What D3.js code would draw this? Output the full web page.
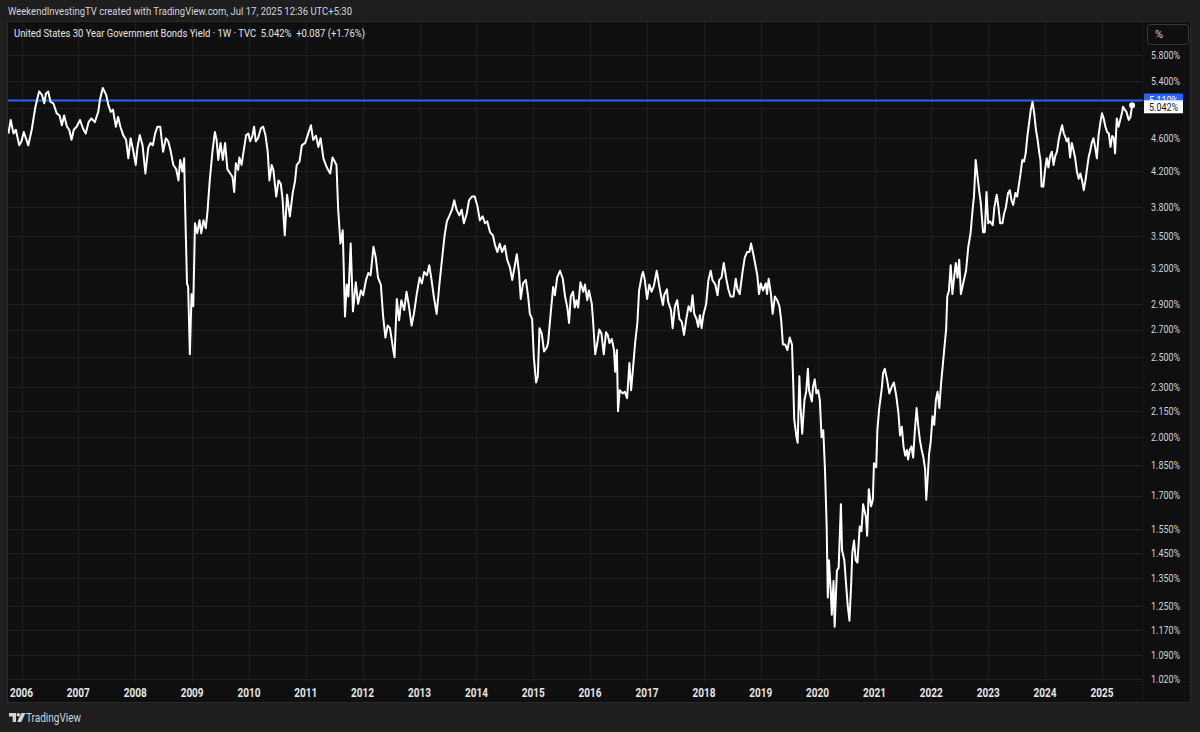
<!DOCTYPE html>
<html>
<head>
<meta charset="utf-8">
<script src="https://cdn.jsdelivr.net/npm/d3@7/dist/d3.min.js"></script>
<style>
    body { margin: 0; background: #1e1e1e; }
    svg { display: block; font-family: Roboto, "Liberation Sans", sans-serif; }
</style>
</head>
<body>
<script>
// weekly closes, dates as decimal years
var dates = [
    2005.77,2005.81,2005.86,2005.90,2005.96,2006.00,2006.04,2006.12,2006.18,2006.24,2006.28,2006.31,2006.36,2006.40,2006.43,2006.47,2006.51,2006.56,2006.62,2006.67,2006.71,2006.75,2006.80,2006.84,2006.88,2006.92,2006.97,
    2007.03,2007.08,2007.13,2007.18,2007.23,2007.29,2007.35,2007.38,2007.43,2007.49,2007.53,2007.57,2007.61,2007.66,2007.70,2007.74,2007.79,2007.84,2007.88,2007.92,2007.97,
    2008.01,2008.04,2008.08,2008.13,2008.18,2008.23,2008.27,2008.31,2008.35,2008.39,2008.44,2008.49,2008.54,2008.58,2008.62,2008.67,2008.72,2008.76,2008.79,2008.83,2008.86,2008.88,2008.91,2008.93,2008.96,2008.99,
    2009.02,2009.05,2009.09,2009.13,2009.16,2009.20,2009.24,2009.27,2009.31,2009.36,2009.40,2009.43,2009.46,2009.50,2009.54,2009.58,2009.62,2009.67,2009.71,2009.74,2009.77,2009.81,2009.83,2009.87,2009.90,2009.95,2009.99,
    2010.02,2010.06,2010.09,2010.12,2010.16,2010.21,2010.25,2010.29,2010.33,2010.36,2010.40,2010.43,2010.48,2010.52,2010.56,2010.59,2010.63,2010.67,2010.72,2010.77,2010.81,2010.84,2010.89,2010.93,2010.99,
    2011.03,2011.09,2011.13,2011.18,2011.22,2011.26,2011.31,2011.37,2011.43,2011.47,2011.51,2011.54,2011.57,2011.61,2011.65,2011.69,2011.72,2011.75,2011.79,2011.83,2011.88,2011.92,2011.97,
    2012.01,2012.06,2012.10,2012.14,2012.19,2012.23,2012.27,2012.32,2012.36,2012.40,2012.44,2012.48,2012.53,2012.56,2012.60,2012.64,2012.68,2012.73,2012.77,2012.81,2012.86,2012.90,2012.95,
    2013.00,2013.04,2013.08,2013.13,2013.17,2013.21,2013.25,2013.30,2013.35,2013.39,2013.44,2013.48,2013.52,2013.57,2013.61,2013.65,2013.70,2013.74,2013.78,2013.83,2013.87,2013.92,2013.97,
    2014.02,2014.06,2014.11,2014.15,2014.19,2014.24,2014.29,2014.33,2014.37,2014.41,2014.45,2014.50,2014.54,2014.59,2014.63,2014.67,2014.71,2014.75,2014.78,2014.82,2014.87,2014.91,2014.94,2014.98,
    2015.01,2015.05,2015.08,2015.11,2015.15,2015.19,2015.24,2015.26,2015.31,2015.35,2015.38,2015.42,2015.47,2015.52,2015.56,2015.60,2015.63,2015.66,2015.70,2015.73,2015.76,2015.79,2015.83,2015.88,2015.91,2015.95,2015.98,
    2016.03,2016.05,2016.09,2016.13,2016.16,2016.20,2016.24,2016.28,2016.31,2016.34,2016.38,2016.42,2016.44,2016.47,2016.49,2016.52,2016.57,2016.61,2016.65,2016.69,2016.72,2016.75,2016.79,2016.83,2016.86,2016.91,2016.93,2016.96,
    2017.00,2017.04,2017.08,2017.12,2017.17,2017.21,2017.24,2017.28,2017.30,2017.35,2017.37,2017.42,2017.45,2017.49,2017.53,2017.57,2017.61,2017.65,2017.69,2017.73,2017.77,2017.80,2017.83,2017.87,2017.90,2017.93,2017.96,2017.99,
    2018.04,2018.08,2018.12,2018.15,2018.20,2018.24,2018.27,2018.31,2018.35,2018.39,2018.43,2018.47,2018.52,2018.56,2018.59,2018.63,2018.68,2018.72,2018.76,2018.80,2018.83,2018.87,2018.90,2018.94,2018.97,
    2019.00,2019.04,2019.09,2019.11,2019.14,2019.18,2019.21,2019.25,2019.29,2019.33,2019.36,2019.39,2019.43,2019.47,2019.51,2019.55,2019.57,2019.59,2019.63,2019.65,2019.68,2019.70,2019.73,2019.77,2019.80,2019.83,2019.85,2019.90,2019.92,2019.95,2019.98,
    2020.01,2020.04,2020.07,2020.10,2020.13,2020.16,2020.18,2020.20,2020.23,2020.25,2020.28,2020.30,2020.34,2020.37,2020.41,2020.43,2020.47,2020.50,2020.53,2020.56,2020.59,2020.61,2020.64,2020.67,2020.70,2020.74,2020.77,2020.80,2020.85,2020.87,2020.90,2020.94,2020.97,2020.99,
    2021.03,2021.05,2021.08,2021.13,2021.15,2021.18,2021.22,2021.26,2021.30,2021.34,2021.38,2021.42,2021.45,2021.48,2021.51,2021.54,2021.57,2021.59,2021.62,2021.65,2021.68,2021.71,2021.74,2021.77,2021.80,2021.83,2021.86,2021.89,2021.91,2021.94,2021.96,2021.99,
    2022.02,2022.05,2022.08,2022.11,2022.14,2022.17,2022.20,2022.23,2022.26,2022.28,2022.31,2022.34,2022.37,2022.40,2022.43,2022.46,2022.49,2022.52,2022.56,2022.61,2022.65,2022.69,2022.73,2022.75,2022.78,2022.81,2022.84,2022.87,2022.91,2022.94,2022.97,
    2023.00,2023.03,2023.08,2023.11,2023.15,2023.18,2023.21,2023.25,2023.28,2023.31,2023.35,2023.38,2023.41,2023.44,2023.48,2023.51,2023.54,2023.57,2023.60,2023.63,2023.66,2023.69,2023.72,2023.75,2023.78,2023.81,2023.84,2023.87,2023.90,2023.92,2023.94,2023.97,
    2024.00,2024.03,2024.06,2024.09,2024.12,2024.15,2024.18,2024.21,2024.24,2024.27,2024.30,2024.33,2024.35,2024.38,2024.41,2024.44,2024.47,2024.50,2024.53,2024.56,2024.59,2024.62,2024.65,2024.68,2024.71,2024.74,2024.77,2024.79,2024.82,2024.85,2024.88,2024.91,2024.94,2024.97,
    2025.00,2025.03,2025.06,2025.09,2025.12,2025.15,2025.18,2025.21,2025.23,2025.26,2025.29,2025.32,2025.35,2025.37,2025.40,2025.43,2025.47,2025.50,2025.53
];

var yields = [
    4.66,4.84,4.66,4.71,4.51,4.56,4.68,4.51,4.71,5.00,5.14,5.24,5.19,5.07,5.21,5.24,5.09,5.07,4.93,4.90,4.77,4.90,4.75,4.71,4.58,4.71,4.75,
    4.84,4.73,4.66,4.81,4.86,4.81,4.95,5.12,5.29,5.19,5.04,4.95,4.98,4.75,4.88,4.75,4.64,4.58,4.35,4.60,4.43,
    4.27,4.48,4.64,4.51,4.17,4.48,4.54,4.51,4.66,4.75,4.75,4.43,4.60,4.56,4.45,4.27,4.22,4.09,4.33,4.19,4.35,3.73,3.07,3.04,2.52,2.98,
    2.88,3.63,3.53,3.66,3.53,3.66,3.58,3.75,4.09,4.45,4.68,4.58,4.33,4.54,4.33,4.54,4.22,4.17,4.13,3.96,4.29,4.21,4.36,4.27,4.41,4.64,4.66,
    4.56,4.63,4.75,4.56,4.60,4.73,4.75,4.64,4.43,4.09,4.27,4.21,3.91,4.09,4.05,3.89,3.51,3.93,3.70,3.95,4.08,4.27,4.31,4.51,4.54,
    4.63,4.77,4.58,4.63,4.49,4.60,4.35,4.24,4.17,4.36,4.31,4.27,3.77,3.43,3.56,2.80,3.06,2.96,3.43,2.84,3.08,2.90,3.01,
    2.97,3.10,3.16,3.14,3.40,3.30,3.12,3.06,2.80,2.64,2.73,2.71,2.57,2.50,2.94,2.77,2.93,2.85,3.00,2.89,2.73,2.82,2.98,
    3.12,3.07,3.17,3.14,3.23,3.10,2.96,2.82,3.07,3.26,3.51,3.65,3.70,3.77,3.87,3.77,3.71,3.77,3.63,3.73,3.87,3.91,3.91,
    3.80,3.66,3.70,3.63,3.65,3.54,3.51,3.41,3.35,3.43,3.35,3.41,3.28,3.21,3.10,3.21,3.33,3.16,2.94,3.07,3.10,2.96,2.82,2.78,
    2.50,2.33,2.37,2.71,2.67,2.54,2.57,2.60,2.84,3.04,2.97,3.12,3.18,3.11,2.96,2.87,2.75,2.96,3.00,2.87,2.93,2.87,3.08,3.00,3.06,2.93,3.01,
    2.90,2.78,2.52,2.61,2.70,2.67,2.52,2.68,2.66,2.60,2.63,2.55,2.40,2.55,2.15,2.28,2.26,2.27,2.23,2.46,2.28,2.41,2.60,2.75,3.01,3.14,3.17,3.10,
    2.94,3.06,3.00,3.05,3.18,3.06,2.98,2.89,2.97,3.02,2.92,2.85,2.71,2.88,2.93,2.78,2.76,2.66,2.78,2.88,2.84,2.97,2.82,2.78,2.72,2.81,2.71,2.81,
    2.90,3.10,3.18,3.10,3.06,2.97,3.10,3.12,3.25,3.12,3.02,2.96,2.96,3.11,3.02,2.98,3.17,3.30,3.35,3.35,3.43,3.33,3.25,3.14,2.98,
    3.07,3.01,3.07,2.98,3.11,2.98,2.82,2.96,2.93,2.88,2.77,2.59,2.59,2.55,2.64,2.59,2.35,2.10,2.00,1.97,2.37,2.18,2.02,2.22,2.27,2.42,2.28,2.21,2.30,2.35,2.26,
    2.28,2.22,2.00,2.04,1.83,1.56,1.28,1.42,1.31,1.22,1.34,1.18,1.38,1.39,1.66,1.46,1.42,1.33,1.25,1.20,1.33,1.45,1.50,1.42,1.41,1.56,1.54,1.66,1.60,1.52,1.73,1.65,1.68,1.86,
    1.84,2.04,2.16,2.30,2.39,2.42,2.35,2.26,2.30,2.33,2.25,2.14,2.01,2.06,1.95,1.90,1.93,1.88,1.93,1.95,1.89,2.04,2.17,2.06,1.98,1.93,1.89,1.83,1.68,1.81,1.91,1.98,
    2.12,2.07,2.22,2.27,2.17,2.32,2.44,2.57,2.70,2.96,3.01,3.23,2.98,3.12,3.25,3.12,3.28,2.98,3.07,3.18,3.40,3.53,3.80,3.91,4.33,4.15,3.98,3.84,3.54,3.54,3.96,
    3.63,3.65,3.61,3.80,3.93,3.80,3.63,3.63,3.73,3.79,3.95,3.98,3.87,3.82,3.95,3.91,4.04,4.17,4.33,4.31,4.41,4.63,4.80,4.98,5.09,4.93,4.71,4.58,4.41,4.33,4.02,4.02,
    4.21,4.35,4.24,4.38,4.43,4.27,4.38,4.43,4.58,4.68,4.77,4.66,4.63,4.56,4.60,4.36,4.54,4.45,4.35,4.19,4.11,4.17,4.09,3.98,4.09,4.24,4.38,4.43,4.54,4.60,4.49,4.35,4.64,4.80,
    4.93,4.86,4.75,4.68,4.66,4.49,4.63,4.60,4.41,4.86,4.75,4.84,4.93,5.02,4.98,4.95,4.84,4.88,5.042
];

var priceTicks = [5.8, 5.4, 5.0, 4.6, 4.2, 3.8, 3.5, 3.2, 2.9, 2.7, 2.5, 2.3, 2.15, 2.0, 1.85, 1.7, 1.55, 1.45, 1.35, 1.25, 1.17, 1.09, 1.02];
var hiddenTicks = [5.0];    // labels covered by the price boxes
var yearTicks = [2006, 2007, 2008, 2009, 2010, 2011, 2012, 2013, 2014, 2015, 2016, 2017, 2018, 2019, 2020, 2021, 2022, 2023, 2024, 2025];
var levelValue = 5.11;      // horizontal line drawn on the chart
var lastValue = 5.042;

var headerText = "WeekendInvestingTV created with TradingView.com, Jul 17, 2025 12:36 UTC+5:30";
var titleText = "United States 30 Year Government Bonds Yield \u00b7 1W \u00b7 TVC  5.042%  +0.087 (+1.76%)";

(function() {
    var width = 1200,
        height = 732,
        left = 8,
        right = 1143,
        top = 22,
        bottom = 681,
        textColor = "#d1d4dc",
        gridColor = "#1e1e1e";

    function yearToDate(t) {
        var y = Math.floor(t),
            start = new Date(y, 0, 1),
            end = new Date(y + 1, 0, 1);
        return new Date(+start + (t - y) * (end - start));
    }

    // squeeze text to the narrow widths of the original font
    function squeeze(sel, w) {
        sel.attr("textLength", w).attr("lengthAdjust", "spacingAndGlyphs");
    }

    var data = dates.map(function(d, i) { return {date : yearToDate(d), value : yields[i]}; });

    var x = d3.scaleTime()
              .domain([new Date(2006, 0, 1), new Date(2025, 0, 1)])
              .range([21.5, 1102]);

    var y = d3.scaleLog()
              .domain([1.02, 5.8])
              .range([679, 55]);

    var svg = d3.select("body").append("svg")
                .attr("width", width)
                .attr("height", height);

    svg.append("rect")
       .attr("width", width)
       .attr("height", height)
       .style("fill", "#1e1e1e");

    // header
    svg.append("text")
       .attr("x", 8)
       .attr("y", 15)
       .style("font-size", "11px")
       .style("fill", textColor)
       .text(headerText)
       .call(squeeze, 344);

    // chart panel
    svg.append("rect")
       .attr("x", 7.5)
       .attr("y", 21.5)
       .attr("width", 1183)
       .attr("height", 681)
       .style("fill", "#0f0f0f")
       .style("stroke", "#2a2a2a");

    var defs = svg.append("defs");
    defs.append("clipPath")
        .attr("id", "plotClip")
        .append("rect")
        .attr("x", left)
        .attr("y", top)
        .attr("width", right - left)
        .attr("height", bottom - top);

    var grid = svg.append("g").attr("class", "grid");

    grid.selectAll(".hgrid")
        .data(priceTicks)
        .enter().append("line")
        .attr("class", "hgrid")
        .attr("x1", left)
        .attr("x2", right)
        .attr("y1", function(d) { return Math.round(y(d)) + 0.5; })
        .attr("y2", function(d) { return Math.round(y(d)) + 0.5; })
        .style("stroke", gridColor);

    grid.selectAll(".vgrid")
        .data(yearTicks)
        .enter().append("line")
        .attr("class", "vgrid")
        .attr("x1", function(d) { return Math.round(x(new Date(d, 0, 1))) + 0.5; })
        .attr("x2", function(d) { return Math.round(x(new Date(d, 0, 1))) + 0.5; })
        .attr("y1", top)
        .attr("y2", bottom)
        .style("stroke", gridColor);

    // pane separators
    svg.append("line")
       .attr("x1", right + 0.5).attr("x2", right + 0.5)
       .attr("y1", top).attr("y2", 702)
       .style("stroke", "#161616");
    svg.append("line")
       .attr("x1", left).attr("x2", 1190)
       .attr("y1", bottom + 0.5).attr("y2", bottom + 0.5)
       .style("stroke", "#161616");

    var plot = svg.append("g").attr("clip-path", "url(#plotClip)");

    plot.append("line")
        .attr("x1", left)
        .attr("x2", right)
        .attr("y1", y(levelValue))
        .attr("y2", y(levelValue))
        .style("stroke", "#2962ff")
        .style("stroke-width", 2);

    var line = d3.line()
                 .x(function(d) { return x(d.date); })
                 .y(function(d) { return y(d.value); });

    plot.append("path")
        .datum(data)
        .attr("d", line)
        .style("fill", "none")
        .style("stroke", "#ffffff")
        .style("stroke-width", 2)
        .style("stroke-linejoin", "round");

    var last = data[data.length - 1];
    plot.append("circle")
        .attr("cx", x(last.date))
        .attr("cy", y(last.value))
        .attr("r", 3)
        .style("fill", "#ffffff");

    // title
    svg.append("text")
       .attr("x", 14)
       .attr("y", 37)
       .style("font-size", "11px")
       .style("white-space", "pre")
       .style("fill", "#e6e6e6")
       .text(titleText)
       .call(squeeze, 351);

    // price scale
    svg.selectAll(".priceLabel")
       .data(priceTicks.filter(function(d) { return hiddenTicks.indexOf(d) < 0; }))
       .enter().append("text")
       .attr("class", "priceLabel")
       .attr("x", 1151)
       .attr("y", function(d) { return y(d); })
       .attr("dy", "0.35em")
       .style("font-size", "11px")
       .style("fill", textColor)
       .text(function(d) { return d.toFixed(3) + "%"; })
       .call(squeeze, 29);

    var unitBox = svg.append("g");
    unitBox.append("rect")
           .attr("x", 1147.5)
           .attr("y", 24.5)
           .attr("width", 41)
           .attr("height", 20)
           .attr("rx", 3)
           .style("fill", "#0f0f0f")
           .style("stroke", "#3a3a3a");
    unitBox.append("text")
           .attr("x", 1155)
           .attr("y", 38)
           .style("font-size", "11px")
           .style("fill", textColor)
           .text("%");

    // level label (blue), mostly covered by the last value label
    var ly = y(levelValue),
        vy = y(lastValue) + 1.5;

    defs.append("clipPath")
        .attr("id", "levelClip")
        .append("rect")
        .attr("x", 1144)
        .attr("y", ly - 8)
        .attr("width", 40)
        .attr("height", (vy - 6.5) - (ly - 8));

    svg.append("rect")
       .attr("x", 1144)
       .attr("y", ly - 7)
       .attr("width", 39)
       .attr("height", 14)
       .attr("rx", 1)
       .style("fill", "#2962ff");
    svg.append("text")
       .attr("x", 1149)
       .attr("y", ly)
       .attr("dy", "0.35em")
       .attr("clip-path", "url(#levelClip)")
       .style("font-size", "11px")
       .style("fill", "#ffffff")
       .text(levelValue.toFixed(3) + "%")
       .call(squeeze, 29);

    svg.append("rect")
       .attr("x", 1144)
       .attr("y", vy - 6.5)
       .attr("width", 39)
       .attr("height", 13)
       .style("fill", "#ffffff");
    svg.append("text")
       .attr("x", 1149)
       .attr("y", vy)
       .attr("dy", "0.35em")
       .style("font-size", "11px")
       .style("fill", "#131722")
       .text(lastValue.toFixed(3) + "%")
       .call(squeeze, 29);

    // time scale
    svg.selectAll(".yearLabel")
       .data(yearTicks)
       .enter().append("text")
       .attr("class", "yearLabel")
       .attr("x", function(d) { return x(new Date(d, 0, 1)); })
       .attr("y", 697)
       .attr("text-anchor", "middle")
       .style("font-size", "12px")
       .style("font-weight", "bold")
       .style("fill", "#e6e6e6")
       .text(function(d) { return d; })
       .call(squeeze, 23);

    // footer logo
    var logo = svg.append("g").attr("transform", "translate(9,713)");
    logo.append("path")
        .attr("d", "M0 0h7v9h-3.3v-5.6h-3.7z")
        .style("fill", textColor);
    logo.append("circle")
        .attr("cx", 9.3)
        .attr("cy", 1.8)
        .attr("r", 1.8)
        .style("fill", textColor);
    logo.append("path")
        .attr("d", "M12.3 0h4.2l-4.3 9h-4.1z")
        .style("fill", textColor);
    svg.append("text")
       .attr("x", 26)
       .attr("y", 722)
       .style("font-size", "12px")
       .style("fill", textColor)
       .text("TradingView")
       .call(squeeze, 55);
})();
</script>
</body>
</html>
